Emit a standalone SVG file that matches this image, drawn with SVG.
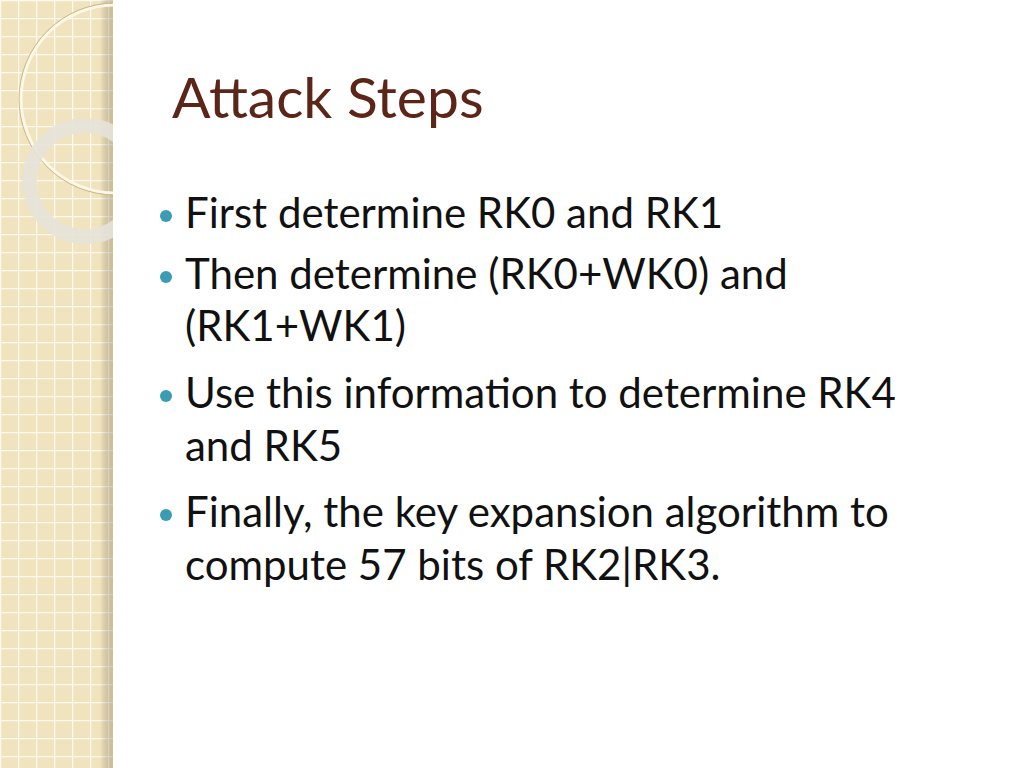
<svg xmlns="http://www.w3.org/2000/svg" width="1024" height="768" viewBox="0 0 1024 768">
<defs>
<pattern id="grid" width="18" height="18" patternUnits="userSpaceOnUse">
<rect width="18" height="18" fill="#f1e3bd"/>
<path d="M0 0.5H18M0.5 0V18" stroke="#fffaf0" stroke-width="1.5"/>
</pattern>
<linearGradient id="shade" x1="0" x2="1">
<stop offset="0" stop-color="#000" stop-opacity="0"/>
<stop offset="1" stop-color="#8a7a50" stop-opacity="0.35"/>
</linearGradient>
<clipPath id="side"><rect width="113" height="768"/></clipPath>
</defs>
<style>
.t{font-family:Lato,"Open Sans",sans-serif;font-size:42px;fill:#111}
.b{fill:#3a9cb2}
</style>
<rect width="1024" height="768" fill="#fff"/>
<g id="sidebar">
<rect width="113" height="768" fill="url(#grid)"/>
<rect x="100" width="13" height="768" fill="url(#shade)"/>
<g clip-path="url(#side)">
<circle cx="115" cy="99" r="94" fill="none" stroke="#fdf7e6" stroke-width="3"/>
<circle cx="115" cy="99" r="96" fill="none" stroke="#c8b890" stroke-width="1"/>
<circle cx="85" cy="181" r="55.5" fill="none" stroke="#e6e2d8" stroke-width="15" opacity="0.9"/>
</g>
</g>
<g id="title"><text x="172" y="118" font-family="Lato,'Open Sans',sans-serif" font-size="57" fill="#5b2618">Attack Steps</text></g>
<g id="bullets">
<circle class="b" cx="166" cy="216" r="6"/>
<circle class="b" cx="166" cy="277" r="6"/>
<circle class="b" cx="166" cy="396" r="6"/>
<circle class="b" cx="166" cy="515" r="6"/>
<text class="t" x="185" y="228">First determine RK0 and RK1</text>
<text class="t" x="185" y="289">Then determine (RK0+WK0) and</text>
<text class="t" x="185" y="341">(RK1+WK1)</text>
<text class="t" x="185" y="408">Use this information to determine RK4</text>
<text class="t" x="185" y="461">and RK5</text>
<text class="t" x="185" y="527">Finally, the key expansion algorithm to</text>
<text class="t" x="185" y="580">compute 57 bits of RK2|RK3.</text>
</g>
</svg>
